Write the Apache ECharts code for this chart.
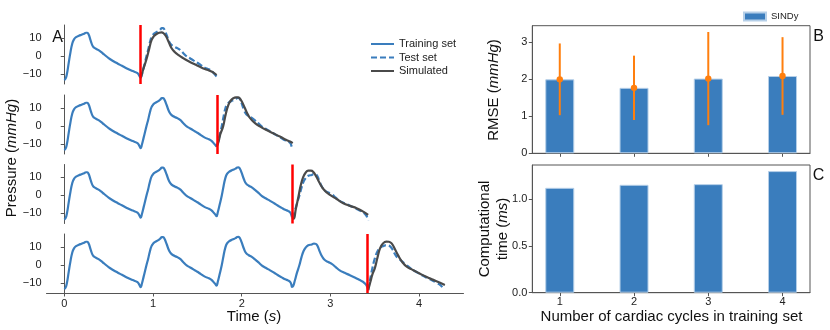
<!DOCTYPE html>
<html lang="en">
<head>
    <meta http-equiv="Content-Type" content="text/html; charset=utf-8"/>
    <title>SINDy pressure</title>
    <script type="text/javascript" src="https://cdn.jsdelivr.net/npm/echarts@6/dist/echarts.min.js"></script>
</head>
<style>
    * { margin: 0; padding: 0; }
    html, body { width: 830px; height: 330px; background: #fff; }
    .main { width: 830px; height: 330px; }
</style>
<body>
<div id="main" class="main"></div>
</body>
<script type="text/javascript">
    // 训练/测试分界时刻 (s)，最后一个为数据结束
    var cutTimes = [0.862, 1.717, 2.567, 3.425, 4.27];

    // 测得的压力曲线 [t, mmHg]
    var signal = [
        [0.00,-13.4],[0.015,-12.6],[0.03,-10.0],[0.05,-4.0],[0.07,2.0],[0.09,6.8],[0.11,9.2],[0.135,10.5],
        [0.165,11.2],[0.195,11.8],[0.225,12.4],[0.245,12.9],[0.26,12.9],[0.275,11.9],[0.29,9.8],[0.305,7.4],
        [0.325,5.2],[0.35,4.2],
        [0.38,3.4],[0.41,2.4],[0.45,0.8],[0.50,-1.2],[0.55,-2.8],[0.60,-4.2],[0.65,-5.5],[0.70,-6.8],
        [0.75,-8.0],[0.79,-8.8],[0.825,-9.6],[0.848,-11.2],[0.862,-12.3],
        [0.875,-10.5],[0.895,-6.5],[0.91,-3.5],[0.93,0.5],[0.946,3.5],[0.965,7.5],[0.985,10.6],[1.005,12.0],
        [1.025,12.8],[1.06,13.8],[1.085,14.8],[1.10,15.5],[1.115,15.5],[1.13,14.5],[1.155,11.5],[1.18,8.2],[1.21,6.0],
        [1.245,5.0],[1.28,4.2],[1.31,3.2],[1.345,1.4],[1.38,-0.2],[1.42,-1.4],[1.46,-2.6],[1.50,-3.8],
        [1.54,-5.1],[1.585,-6.5],[1.63,-7.4],[1.66,-8.3],[1.685,-9.6],[1.705,-10.8],[1.717,-11.5],
        [1.73,-9.5],[1.75,-5.5],[1.775,-0.2],[1.795,5.0],[1.815,9.5],[1.835,12.0],[1.86,13.2],[1.895,14.1],
        [1.93,14.9],[1.95,15.5],[1.965,15.6],[1.98,14.8],[2.00,12.5],[2.025,9.0],[2.05,6.6],[2.08,5.4],[2.11,4.6],
        [2.15,3.1],[2.19,1.4],[2.225,-0.2],[2.27,-1.6],[2.32,-3.0],[2.37,-4.5],[2.41,-5.7],[2.45,-6.9],
        [2.49,-8.0],[2.525,-8.7],[2.548,-9.6],[2.56,-11.0],[2.567,-12.2],
        [2.58,-11.8],[2.60,-8.5],[2.625,-4.0],[2.65,-0.2],[2.675,4.5],[2.70,8.0],[2.72,9.6],[2.75,10.9],
        [2.79,11.4],[2.815,11.9],[2.835,11.7],[2.855,10.5],[2.88,7.4],[2.91,4.4],[2.94,2.6],[2.975,1.6],[3.015,0.6],
        [3.06,-1.2],[3.105,-3.0],[3.16,-4.4],[3.22,-5.7],[3.28,-7.1],[3.33,-8.4],[3.365,-9.3],[3.395,-10.6],
        [3.413,-12.0],[3.425,-14.0],
        [3.44,-10.0],[3.47,-2.5],[3.50,3.5],[3.53,7.5],[3.56,9.6],[3.60,10.6],[3.64,11.0],[3.67,10.5],
        [3.70,8.6],[3.73,5.8],[3.76,3.8],[3.80,2.3],[3.85,0.2],[3.90,-1.8],[3.95,-3.4],[4.00,-4.8],
        [4.05,-6.2],[4.10,-7.4],[4.15,-8.6],[4.20,-10.0],[4.24,-11.2],[4.27,-13.0]
    ];

    // 模型预测 (每个子图一条)
    var sim1 = [[0.862,-12.3],[0.89,-7.5],[0.93,-1.3],[0.96,4.5],[0.985,8.9],[1.01,11.0],[1.04,12.2],[1.07,12.9],
        [1.097,13.1],[1.125,12.3],[1.15,10.7],[1.18,7.4],[1.21,4.3],[1.245,2.2],[1.285,0.6],[1.34,-1.2],
        [1.397,-2.8],[1.47,-4.6],[1.55,-6.5],[1.61,-7.7],[1.66,-8.7],[1.69,-9.6],[1.717,-10.6]];
    var sim2 = [[1.717,-11.5],[1.735,-9.5],[1.76,-4.5],[1.79,-0.4],[1.82,6.5],[1.85,11.7],[1.875,14.0],[1.905,15.4],
        [1.935,15.9],[1.96,15.9],[1.99,14.5],[2.02,11.7],[2.055,7.8],[2.095,4.3],[2.15,1.6],[2.21,-0.4],
        [2.28,-2.3],[2.355,-4.1],[2.43,-5.9],[2.505,-7.8],[2.545,-8.7],[2.575,-9.6]];
    var sim3 = [[2.567,-12.2],[2.585,-13.0],[2.61,-7.5],[2.64,-0.6],[2.665,5.5],[2.695,10.4],[2.72,12.6],[2.75,13.8],
        [2.78,13.8],[2.805,13.2],[2.84,10.5],[2.88,6.8],[2.93,3.0],[2.995,0.3],[3.07,-2.0],[3.145,-4.3],
        [3.22,-5.8],[3.295,-7.1],[3.36,-8.7],[3.425,-10.8]];
    var sim4 = [[3.425,-14.0],[3.45,-9.5],[3.475,-5.0],[3.50,-1.9],[3.53,4.0],[3.56,9.3],[3.59,11.8],[3.63,13.0],
        [3.66,12.9],[3.69,12.0],[3.725,9.0],[3.76,5.6],[3.81,1.6],[3.86,-0.9],[3.93,-2.8],[4.00,-4.6],
        [4.08,-6.6],[4.16,-8.3],[4.23,-9.8],[4.29,-11.1]];
    var simRuns = [sim1, sim2, sim3, sim4];

    var pressureTicks = [-10, 0, 10];
    var timeTicks = [0, 1, 2, 3, 4];

    // 右侧柱状图
    var cycles = [1, 2, 3, 4];
    var rmse = [2.00, 1.77, 2.02, 2.09];
    var rmseErr = [0.97, 0.87, 1.26, 1.05];
    var compTime = [1.117, 1.149, 1.156, 1.295];
    var rmseTicks = [0, 1, 2, 3];
    var compTicks = [0, 0.5, 1.0];

    var FONT = 'Liberation Sans, Arial, sans-serif';
    var BLUE = '#3a7dbd';
    var SPINE = '#555';
    var SMOOTH = 0.5;
    var leftTops = [25, 95, 164.5, 234];

    var grids = [], xAxes = [], yAxes = [], series = [];

    function minusFmt(v) {
        return v < 0 ? '\u2212' + Math.abs(v) : String(v);
    }

    for (var k = 0; k < 4; k++) {
        var last = (k === 3);
        grids.push({left: 46.5, width: 417, top: leftTops[k], height: 59});
        xAxes.push({
            type: 'value', gridIndex: k, min: -0.2, max: 4.5,
            splitLine: {show: false},
            axisLine: {show: last, onZero: false, lineStyle: {color: SPINE, width: 1}},
            axisTick: {show: last, length: 3.5, customValues: timeTicks, lineStyle: {color: SPINE}},
            axisLabel: {show: last, customValues: timeTicks, fontSize: 11, color: '#222', margin: 5, fontFamily: FONT}
        });
        yAxes.push({
            type: 'value', gridIndex: k, min: -15.6, max: 17.2,
            splitLine: {show: false},
            axisLine: {show: true, lineStyle: {color: SPINE, width: 1}},
            axisTick: {show: true, length: 3.5, customValues: pressureTicks, lineStyle: {color: SPINE}},
            axisLabel: {customValues: pressureTicks, fontSize: 11, color: '#222', margin: 5,
                fontFamily: FONT, formatter: minusFmt}
        });

        var train = signal.filter(function (p) { return p[0] <= cutTimes[k] + 1e-9; });
        var test = signal.filter(function (p) {
            return p[0] >= cutTimes[k] - 1e-9 && p[0] <= cutTimes[k + 1] + 1e-9;
        });

        series.push({
            name: 'Training set', type: 'line', xAxisIndex: k, yAxisIndex: k,
            data: train, showSymbol: false, symbol: 'none', smooth: SMOOTH,
            lineStyle: {color: BLUE, width: 2.2}, itemStyle: {color: BLUE}, z: 2,
            markLine: {
                silent: true, symbol: ['none', 'none'], label: {show: false},
                lineStyle: {color: '#ff0000', width: 2.5, type: 'solid'},
                data: [{xAxis: cutTimes[k]}], z: 5
            }
        });
        series.push({
            name: 'Test set', type: 'line', xAxisIndex: k, yAxisIndex: k,
            data: test, showSymbol: false, symbol: 'none', smooth: SMOOTH,
            lineStyle: {color: BLUE, width: 2.2, type: [6, 3]}, itemStyle: {color: BLUE}, z: 3
        });
        series.push({
            name: 'Simulated', type: 'line', xAxisIndex: k, yAxisIndex: k,
            data: simRuns[k], showSymbol: false, symbol: 'none', smooth: SMOOTH,
            lineStyle: {color: '#4a4a4a', width: 2.2}, itemStyle: {color: '#4a4a4a'}, z: 4
        });
    }

    // 右侧两个面板
    grids.push({left: 532.3, width: 277.7, top: 25.7, height: 127.6, show: true,
        borderColor: SPINE, borderWidth: 1, backgroundColor: 'transparent'});
    grids.push({left: 532.3, width: 277.7, top: 165, height: 127.7, show: true,
        borderColor: SPINE, borderWidth: 1, backgroundColor: 'transparent'});

    [4, 5].forEach(function (g) {
        xAxes.push({
            type: 'value', gridIndex: g, min: 0.63, max: 4.37,
            splitLine: {show: false},
            axisLine: {show: true, onZero: false, lineStyle: {color: SPINE}},
            axisTick: {show: true, length: 3.5, customValues: cycles, lineStyle: {color: SPINE}},
            axisLabel: {show: g === 5, customValues: cycles, fontSize: 11, color: '#222', margin: 4, fontFamily: FONT}
        });
    });
    yAxes.push({
        type: 'value', gridIndex: 4, min: 0, max: 3.45,
        splitLine: {show: false},
        axisLine: {show: true, lineStyle: {color: SPINE}},
        axisTick: {show: true, length: 3.5, customValues: rmseTicks, lineStyle: {color: SPINE}},
        axisLabel: {customValues: rmseTicks, fontSize: 11, color: '#222', margin: 5, fontFamily: FONT}
    });
    yAxes.push({
        type: 'value', gridIndex: 5, min: 0, max: 1.36,
        splitLine: {show: false},
        axisLine: {show: true, lineStyle: {color: SPINE}},
        axisTick: {show: true, length: 3.5, customValues: compTicks, lineStyle: {color: SPINE}},
        axisLabel: {customValues: compTicks, fontSize: 11, color: '#222', margin: 5, fontFamily: FONT,
            formatter: function (v) { return v.toFixed(1); }}
    });

    series.push({
        name: 'SINDy', type: 'bar', xAxisIndex: 4, yAxisIndex: 4, barWidth: 29,
        data: cycles.map(function (c, i) { return [c, rmse[i]]; }),
        itemStyle: {color: BLUE, borderColor: '#b5cfe8', borderWidth: 1}
    });
    series.push({
        name: 'RMSE std', type: 'custom', xAxisIndex: 4, yAxisIndex: 4, z: 10,
        data: cycles.map(function (c, i) { return [c, rmse[i], rmseErr[i]]; }),
        renderItem: function (params, api) {
            var x = api.value(0), m = api.value(1), e = api.value(2);
            var top = api.coord([x, m + e]), bot = api.coord([x, m - e]), mid = api.coord([x, m]);
            return {
                type: 'group', children: [
                    {type: 'line', shape: {x1: top[0], y1: top[1], x2: bot[0], y2: bot[1]},
                        style: {stroke: '#ff7f0e', lineWidth: 2}},
                    {type: 'circle', shape: {cx: mid[0], cy: mid[1], r: 3.2}, style: {fill: '#ff7f0e'}}
                ]
            };
        }
    });
    series.push({
        name: 'SINDy', type: 'bar', xAxisIndex: 5, yAxisIndex: 5, barWidth: 29,
        data: cycles.map(function (c, i) { return [c, compTime[i]]; }),
        itemStyle: {color: BLUE, borderColor: '#b5cfe8', borderWidth: 1}
    });

    function label(txt, x, y, size, rot, rich) {
        return {
            type: 'text', x: x, y: y, rotation: rot || 0,
            style: {text: txt, fontSize: size, fontFamily: FONT, fill: '#111', align: 'center',
                verticalAlign: 'middle', rich: rich || {}}
        };
    }
    var italic = {
        n: {fontSize: 15, fontFamily: FONT, fill: '#111'},
        i: {fontSize: 15, fontFamily: FONT, fontStyle: 'italic', fill: '#111'}
    };

    var option = {
        animation: false,
        backgroundColor: '#fff',
        textStyle: {fontFamily: FONT},
        grid: grids,
        xAxis: xAxes,
        yAxis: yAxes,
        legend: [{
            data: ['Training set', 'Test set', 'Simulated'],
            orient: 'vertical', left: 365, top: 33.5, itemWidth: 23, itemHeight: 13, itemGap: 2.5,
            itemStyle: {color: 'rgba(0,0,0,0)', borderColor: 'rgba(0,0,0,0)', borderWidth: 0},
            textStyle: {fontSize: 11, color: '#222', fontFamily: FONT}
        }, {
            data: [{name: 'SINDy', icon: 'rect'}],
            left: 738, top: 6.5, itemWidth: 22, itemHeight: 8,
            textStyle: {fontSize: 9.5, color: '#222', fontFamily: FONT}
        }],
        graphic: [
            label('A', 57.5, 37.5, 16),
            label('B', 818.5, 37, 16),
            label('C', 818.5, 175.5, 16),
            label('{n|Pressure (}{i|mmHg}{n|)}', 12, 158, 15, Math.PI / 2, italic),
            label('{n|Time (}{i|s}{n|)}', 254, 316.5, 15, 0, italic),
            label('{n|RMSE (}{i|mmHg}{n|)}', 494, 90, 15, Math.PI / 2, italic),
            label('{n|Computational}', 485, 229, 15, Math.PI / 2, italic),
            label('{n|time (}{i|ms}{n|)}', 503, 229, 15, Math.PI / 2, italic),
            label('Number of cardiac cycles in training set', 671.5, 316.5, 15)
        ],
        series: series
    };

    var chart = echarts.init(document.getElementById('main'));
    chart.setOption(option);
</script>
</html>
